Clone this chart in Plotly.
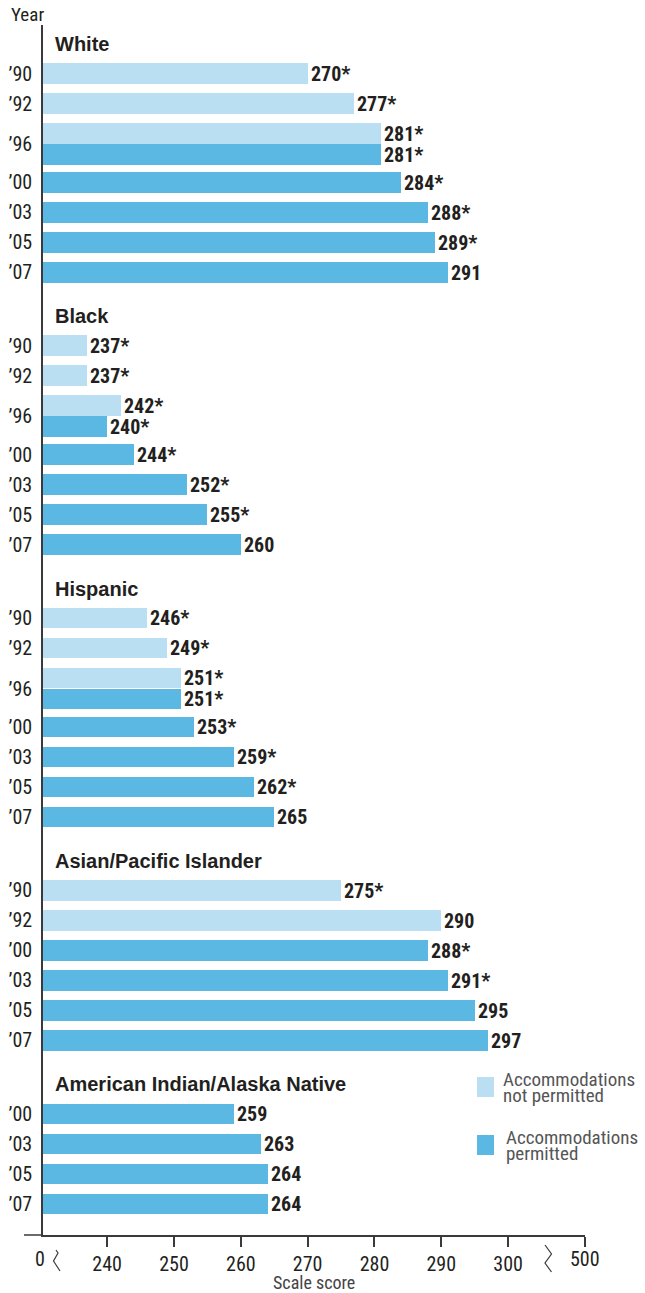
import plotly.graph_objects as go

# ---------------- data ----------------
groups = ["White", "Black", "Hispanic", "Asian/Pacific Islander",
          "American Indian/Alaska Native"]

white_years = ["’90", "’92", "’96", "’00", "’03", "’05", "’07"]
white_not_permitted = [270, 277, 281, None, None, None, None]
white_permitted = [None, None, 281, 284, 288, 289, 291]
white_np_sig = [True, True, True, False, False, False, False]
white_p_sig = [False, False, True, True, True, True, False]

black_years = ["’90", "’92", "’96", "’00", "’03", "’05", "’07"]
black_not_permitted = [237, 237, 242, None, None, None, None]
black_permitted = [None, None, 240, 244, 252, 255, 260]
black_np_sig = [True, True, True, False, False, False, False]
black_p_sig = [False, False, True, True, True, True, False]

hispanic_years = ["’90", "’92", "’96", "’00", "’03", "’05", "’07"]
hispanic_not_permitted = [246, 249, 251, None, None, None, None]
hispanic_permitted = [None, None, 251, 253, 259, 262, 265]
hispanic_np_sig = [True, True, True, False, False, False, False]
hispanic_p_sig = [False, False, True, True, True, True, False]

asian_years = ["’90", "’92", "’00", "’03", "’05", "’07"]
asian_not_permitted = [275, 290, None, None, None, None]
asian_permitted = [None, None, 288, 291, 295, 297]
asian_np_sig = [True, False, False, False, False, False]
asian_p_sig = [False, False, True, True, False, False]

aian_years = ["’00", "’03", "’05", "’07"]
aian_not_permitted = [None, None, None, None]
aian_permitted = [259, 263, 264, 264]
aian_np_sig = [False, False, False, False]
aian_p_sig = [False, False, False, False]

x_tick_vals = [240, 250, 260, 270, 280, 290, 300]
x_tick_text = ["240", "250", "260", "270", "280", "290", "300"]
break_value = 311.5          # position standing for 500 after the axis break
axis_start = 230.4           # position standing for 0 before the axis break

series = [
    (white_years, white_not_permitted, white_permitted, white_np_sig, white_p_sig),
    (black_years, black_not_permitted, black_permitted, black_np_sig, black_p_sig),
    (hispanic_years, hispanic_not_permitted, hispanic_permitted, hispanic_np_sig, hispanic_p_sig),
    (asian_years, asian_not_permitted, asian_permitted, asian_np_sig, asian_p_sig),
    (aian_years, aian_not_permitted, aian_permitted, aian_np_sig, aian_p_sig),
]

# ---------------- style / layout ----------------
W, H = 645, 1293
L, R, T, B = 43, 585, 25, 1235
LIGHT = "#bbdff2"
DARK = "#5bb8e3"
INK = "#231f20"
AXIS = "#3a3a3a"
NARROW = "Liberation Sans Narrow, Arial Narrow, Roboto Condensed, DejaVu Sans Condensed, sans-serif"
BOLD = "Liberation Sans, Arial, sans-serif"

STEP, TITLE_GAP, PAIR_GAP, AFTER_PAIR, GROUP_GAP = 30.0, 29.5, 20.8, 28.0, 44.0
BAR_W = 20.7
FIRST_TITLE = 44.0


def px(x):
    return (x - L) / (R - L)


def py(y):
    return (B - y) / (B - T)


# layout of rows along the (pixel-like) y axis
np_y, np_x, np_t = [], [], []
p_y, p_x, p_t = [], [], []
tick_y, tick_txt = [], []
title_y = []
cursor = FIRST_TITLE
for years, npv, pv, nps, ps in series:
    title_y.append(cursor)
    c = cursor + TITLE_GAP
    last = c
    for yr, a, b, sa, sb in zip(years, npv, pv, nps, ps):
        if a is not None and b is not None:
            np_y.append(c); np_x.append(a); np_t.append(f"{a}{'*' if sa else ''}")
            p_y.append(c + PAIR_GAP); p_x.append(b); p_t.append(f"{b}{'*' if sb else ''}")
            tick_y.append(c + PAIR_GAP / 2); tick_txt.append(yr)
            last = c + PAIR_GAP
            c = last + AFTER_PAIR
        else:
            if a is not None:
                np_y.append(c); np_x.append(a); np_t.append(f"{a}{'*' if sa else ''}")
            else:
                p_y.append(c); p_x.append(b); p_t.append(f"{b}{'*' if sb else ''}")
            tick_y.append(c); tick_txt.append(yr)
            last = c
            c = c + STEP
    cursor = last + GROUP_GAP

fig = go.Figure()
label_font = dict(family=NARROW, size=20, color=INK, weight="bold")
fig.add_trace(go.Bar(
    y=np_y, x=np_x, orientation="h", width=BAR_W, marker=dict(color=LIGHT, line=dict(width=0)),
    text=np_t, textposition="outside", textfont=label_font, cliponaxis=False,
    constraintext="none", name="Accommodations not permitted", showlegend=False,
    hoverinfo="x+y"))
fig.add_trace(go.Bar(
    y=p_y, x=p_x, orientation="h", width=BAR_W, marker=dict(color=DARK, line=dict(width=0)),
    text=p_t, textposition="outside", textfont=label_font, cliponaxis=False,
    constraintext="none", name="Accommodations permitted", showlegend=False,
    hoverinfo="x+y"))

annotations = []
for g, ty in zip(groups, title_y):
    annotations.append(dict(text=f"<b>{g}</b>", x=px(53), xref="paper", y=ty, yref="y",
                            xanchor="left", yanchor="middle", showarrow=False,
                            font=dict(family=BOLD, size=20, color=INK)))

LEG = "#555555"
annotations += [
    dict(text="Year", x=px(9), y=py(14), xref="paper", yref="paper", xanchor="left",
         yanchor="middle", showarrow=False, font=dict(family=NARROW, size=19, color=INK)),
    dict(text="0", x=px(40), y=py(1259), xref="paper", yref="paper", xanchor="center",
         yanchor="middle", showarrow=False, font=dict(family=NARROW, size=20, color=INK)),
    dict(text="500", x=px(585), y=py(1259), xref="paper", yref="paper", xanchor="center",
         yanchor="middle", showarrow=False, font=dict(family=NARROW, size=20, color=INK)),
    dict(text="Scale score", x=px(314), y=py(1282), xref="paper", yref="paper",
         xanchor="center", yanchor="middle", showarrow=False,
         font=dict(family=NARROW, size=18, color="#444444")),
    dict(text="Accommodations", x=px(501), y=py(1079), xref="paper", yref="paper",
         xanchor="left", yanchor="middle", showarrow=False,
         font=dict(family=NARROW, size=19, color=LEG)),
    dict(text="not permitted", x=px(501), y=py(1095), xref="paper", yref="paper",
         xanchor="left", yanchor="middle", showarrow=False,
         font=dict(family=NARROW, size=19, color=LEG)),
    dict(text="Accommodations", x=px(504), y=py(1137), xref="paper", yref="paper",
         xanchor="left", yanchor="middle", showarrow=False,
         font=dict(family=NARROW, size=19, color=LEG)),
    dict(text="permitted", x=px(504), y=py(1153), xref="paper", yref="paper",
         xanchor="left", yanchor="middle", showarrow=False,
         font=dict(family=NARROW, size=19, color=LEG)),
]

shapes = [
    # extension of the x axis line to the left of the value axis
    dict(type="line", xref="paper", yref="paper", x0=px(24), x1=px(43), y0=0, y1=0,
         line=dict(color=AXIS, width=1.5)),
    # axis break marks
    dict(type="path", xref="paper", yref="paper",
         path=f"M {px(56)} {py(1250)} L {px(58)} {py(1253)} L {px(53.5)} {py(1261)} L {px(60)} {py(1271)}",
         line=dict(color=AXIS, width=1.2)),
    dict(type="path", xref="paper", yref="paper",
         path=f"M {px(545)} {py(1245)} L {px(551.5)} {py(1254)} L {px(545)} {py(1263)} L {px(551.5)} {py(1272)}",
         line=dict(color=AXIS, width=1.2)),
    # legend swatches
    dict(type="rect", xref="paper", yref="paper", x0=px(477), x1=px(494), y0=py(1077), y1=py(1097),
         fillcolor=LIGHT, line=dict(width=0)),
    dict(type="rect", xref="paper", yref="paper", x0=px(477), x1=px(494), y0=py(1135), y1=py(1155),
         fillcolor=DARK, line=dict(width=0)),
]

fig.update_layout(
    width=W, height=H, autosize=False,
    margin=dict(l=L, r=W - R, t=T, b=H - B, pad=0),
    paper_bgcolor="white", plot_bgcolor="white",
    barmode="overlay", bargap=0,
    showlegend=False,
    annotations=annotations, shapes=shapes,
    xaxis=dict(range=[axis_start, break_value], tickvals=x_tick_vals + [break_value],
               ticktext=x_tick_text + [""], ticks="outside", ticklen=10, tickwidth=1.5,
               tickcolor=AXIS, showline=True, linecolor=AXIS, linewidth=1.5,
               showgrid=False, zeroline=False, fixedrange=True, automargin=False,
               tickfont=dict(family=NARROW, size=20, color=INK)),
    yaxis=dict(range=[B, T], tickvals=tick_y, ticktext=tick_txt, ticks="",
               showline=True, linecolor=AXIS, linewidth=1.5, showgrid=False,
               zeroline=False, fixedrange=True, ticklabelstandoff=5, automargin=False,
               tickfont=dict(family=NARROW, size=20, color=INK)),
)

fig.write_html("out.html", config={"displayModeBar": False},
               post_script="document.body.style.margin='0px';")
